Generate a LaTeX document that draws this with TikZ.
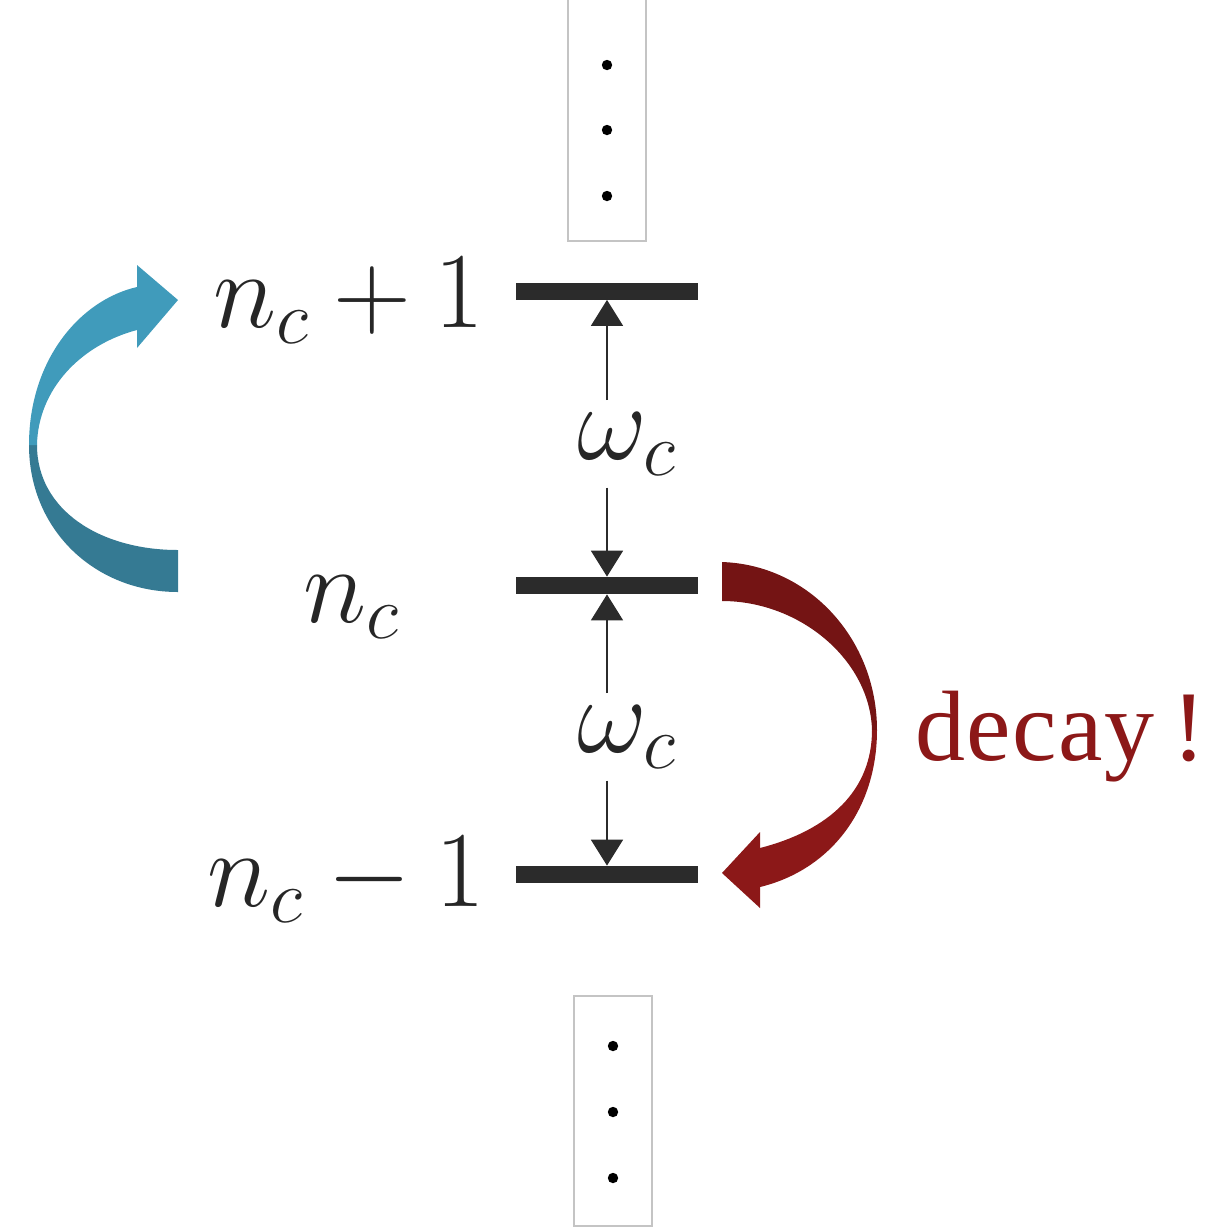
\RequirePackage{fix-cm}
\documentclass[tikz,border=0pt]{standalone}
\usepackage{fontspec}
\newfontfamily\decayfont[LetterSpace=1.5]{Liberation Serif}
\usetikzlibrary{arrows.meta}
\definecolor{barcol}{HTML}{2B2B2B}
\definecolor{txtcol}{HTML}{262626}
\definecolor{boxcol}{HTML}{C4C4C4}
\definecolor{pumplight}{HTML}{409BBB}
\definecolor{pumpdark}{HTML}{357A93}
\definecolor{decaydark}{HTML}{741414}
\definecolor{decaylight}{HTML}{8C1818}
\begin{document}
\begin{tikzpicture}[x=0.5pt,y=-0.5pt,
  level/.style={fill=barcol, inner sep=0pt, minimum width=91pt, minimum height=8.5pt},
  lbl/.style={text=txtcol, inner sep=0pt, font=\fontsize{54}{60}\selectfont},
  freq/.style={lbl, anchor=base west, inner ysep=6pt},
  gap/.style={-{Triangle[width=16pt,length=13pt]}, draw=barcol, line width=0.9pt},
  dotbox/.style={draw=boxcol, line width=1pt, minimum width=39pt, inner sep=0pt}]
\useasboundingbox (0,0) rectangle (1213,1228);
% levels
\node[level] (up) at (607,291) {};
\node[level] (mid) at (607,585.5) {};
\node[level] (low) at (607,874.5) {};
\node[lbl, anchor=base east] (lup) at (485,327) {$n_c+1$};
\node[lbl, anchor=base west] (lmid) at (303,622) {$n_c$};
\node[lbl, anchor=base east] (llow) at (485,906) {$n_c-1$};
% spacings
\node[freq] (w1) at (577,459) {$\omega_c$};
\node[freq] (w2) at (577,752) {$\omega_c$};
\draw[gap] (w1.north -| up.south) -- (up.south);
\draw[gap] (w1.south -| mid.north) -- (mid.north);
\draw[gap] (w2.north -| mid.south) -- (mid.south);
\draw[gap] (w2.south -| low.north) -- (low.north);
% more levels
\node[dotbox, minimum height=130.5pt] (dtop) at (607,110.5) {};
\node[dotbox, minimum height=115pt] (dlow) at (613,1111) {};
\foreach \y in {65,130,196} \fill (dtop.center |- 0,\y) circle (2.6pt);
\foreach \y in {1046,1112,1178} \fill (dlow.center |- 0,\y) circle (2.6pt);
% pump arrow
\fill[pumpdark] (178,550) -- (178,592) .. controls (95,592) and (29,530) .. (29,445)
  -- (37,445) .. controls (37,510) and (100,550) .. (178,550) -- cycle;
\fill[pumplight] (29,445) .. controls (29,360) and (80,300) .. (137,287) -- (137,265)
  -- (178,300) -- (137,348) -- (137,330) .. controls (80,345) and (38,390) .. (37,445) -- cycle;
% decay arrow
\fill[decaydark] (722,562) .. controls (810,565) and (877,640) .. (877,730)
  -- (872,730) .. controls (870,660) and (800,601) .. (722,601) -- cycle;
\fill[decaylight] (877,730) .. controls (877,810) and (830,870) .. (760,887) -- (760,908)
  -- (722,873) -- (760,832) -- (760,848) .. controls (830,830) and (872,790) .. (872,730) -- cycle;
\node[anchor=base west, inner sep=0pt, text=decaylight, font=\decayfont\fontsize{50}{60}\selectfont] (dec) at (915,760) {decay\hspace{9pt}!};
\end{tikzpicture}
\end{document}
